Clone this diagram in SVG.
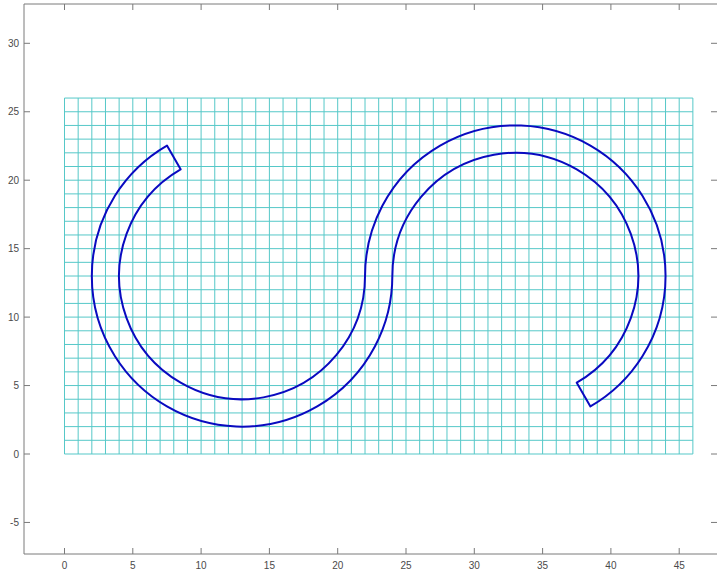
<svg xmlns="http://www.w3.org/2000/svg" width="717" height="571" viewBox="0 0 717 571">
<style>
.grid{fill:none;stroke:#55c8c8;stroke-width:1;vector-effect:non-scaling-stroke}
.curve{fill:none;stroke:#0a0ac0;stroke-width:2;stroke-linejoin:round;vector-effect:non-scaling-stroke}
.ax{fill:none;stroke:#7a7a7a;stroke-width:1}
.lbl{font-family:"Liberation Sans",Arial,sans-serif;font-size:10px;fill:#4a4a4a}
</style>
<rect width="717" height="571" fill="#ffffff"/>
<g id="plot" transform="translate(64.5,454) scale(13.66,-13.69)">
<path id="grid" class="grid" d="M0 0V26M1 0V26M2 0V26M3 0V26M4 0V26M5 0V26M6 0V26M7 0V26M8 0V26M9 0V26M10 0V26M11 0V26M12 0V26M13 0V26M14 0V26M15 0V26M16 0V26M17 0V26M18 0V26M19 0V26M20 0V26M21 0V26M22 0V26M23 0V26M24 0V26M25 0V26M26 0V26M27 0V26M28 0V26M29 0V26M30 0V26M31 0V26M32 0V26M33 0V26M34 0V26M35 0V26M36 0V26M37 0V26M38 0V26M39 0V26M40 0V26M41 0V26M42 0V26M43 0V26M44 0V26M45 0V26M46 0V26M0 0H46M0 1H46M0 2H46M0 3H46M0 4H46M0 5H46M0 6H46M0 7H46M0 8H46M0 9H46M0 10H46M0 11H46M0 12H46M0 13H46M0 14H46M0 15H46M0 16H46M0 17H46M0 18H46M0 19H46M0 20H46M0 21H46M0 22H46M0 23H46M0 24H46M0 25H46M0 26H46"/>
<path id="track" class="curve" d="M7.5 22.5263A11 11 0 1 1 24 13A9 9 0 1 0 37.5 5.2058L38.5 3.4737A11 11 0 1 1 22 13A9 9 0 1 0 8.5 20.7942Z"/>
</g>
<g id="axes">
<path class="ax" d="M24 4V554H717M24 4H717"/>
<path class="ax" d="M64.5 554V548M132.8 554V548M201.1 554V548M269.4 554V548M337.7 554V548M406 554V548M474.3 554V548M542.6 554V548M610.9 554V548M679.2 554V548M64.5 4V10M132.8 4V10M201.1 4V10M269.4 4V10M337.7 4V10M406 4V10M474.3 4V10M542.6 4V10M610.9 4V10M679.2 4V10M24 522.45H30M24 454H30M24 385.55H30M24 317.1H30M24 248.65H30M24 180.2H30M24 111.75H30M24 43.3H30M717 522.45H711M717 454H711M717 385.55H711M717 317.1H711M717 248.65H711M717 180.2H711M717 111.75H711M717 43.3H711"/>
<g class="lbl" text-anchor="middle">
<text x="64.5" y="569">0</text>
<text x="132.8" y="569">5</text>
<text x="201.1" y="569">10</text>
<text x="269.4" y="569">15</text>
<text x="337.7" y="569">20</text>
<text x="406" y="569">25</text>
<text x="474.3" y="569">30</text>
<text x="542.6" y="569">35</text>
<text x="610.9" y="569">40</text>
<text x="679.2" y="569">45</text>
</g>
<g class="lbl" text-anchor="end">
<text x="19" y="526">-5</text>
<text x="19" y="457.5">0</text>
<text x="19" y="389">5</text>
<text x="19" y="320.6">10</text>
<text x="19" y="252.1">15</text>
<text x="19" y="183.7">20</text>
<text x="19" y="115.2">25</text>
<text x="19" y="46.8">30</text>
</g>
</g>
</svg>
